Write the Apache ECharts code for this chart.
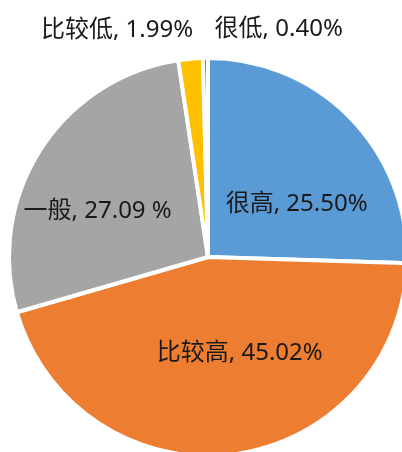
<!DOCTYPE html>
<html>
<head>
<meta charset="utf-8">
<script src="https://cdn.jsdelivr.net/npm/echarts@6/dist/echarts.min.js"></script>
<style>
  html, body { margin: 0; padding: 0; background: #fff; }
  #chart { width: 402px; height: 452px; }
</style>
</head>
<body>
<div id="chart"></div>
<script>
// Rating categories and their shares (percent)
const categories = ['很高', '比较高', '一般', '比较低', '很低'];
const shares = [25.50, 45.02, 27.09, 1.99, 0.40];
const shareText = ['25.50%', '45.02%', '27.09 %', '1.99%', '0.40%'];

const colors = ['#5B9BD5', '#ED7D31', '#A5A5A5', '#FFC000', '#4472C4'];
// label nudges from the default inside anchor of each slice
const labelOffsets = [[15, 18], [19, -6], [-24, 9], [-82, -125], [72, -125]];

const chart = echarts.init(document.getElementById('chart'), null, { renderer: 'canvas' });

const data = categories.map((name, i) => ({
  name: name,
  value: shares[i],
  itemStyle: { color: colors[i] },
  label: { offset: labelOffsets[i] }
}));

chart.setOption({
  backgroundColor: '#ffffff',
  animation: false,
  series: [{
    type: 'pie',
    center: [208, 257],
    radius: 199,
    startAngle: 90,
    clockwise: true,
    avoidLabelOverlap: false,
    itemStyle: { borderColor: '#ffffff', borderWidth: 4 },
    label: {
      show: true,
      position: 'inside',
      color: '#1a1a1a',
      fontSize: 24,
      fontFamily: '"Noto Sans", "Noto Sans CJK SC", sans-serif',
      formatter: p => p.name + ', ' + shareText[p.dataIndex]
    },
    labelLine: { show: false },
    emphasis: { disabled: true },
    data: data
  }]
});
</script>
</body>
</html>
